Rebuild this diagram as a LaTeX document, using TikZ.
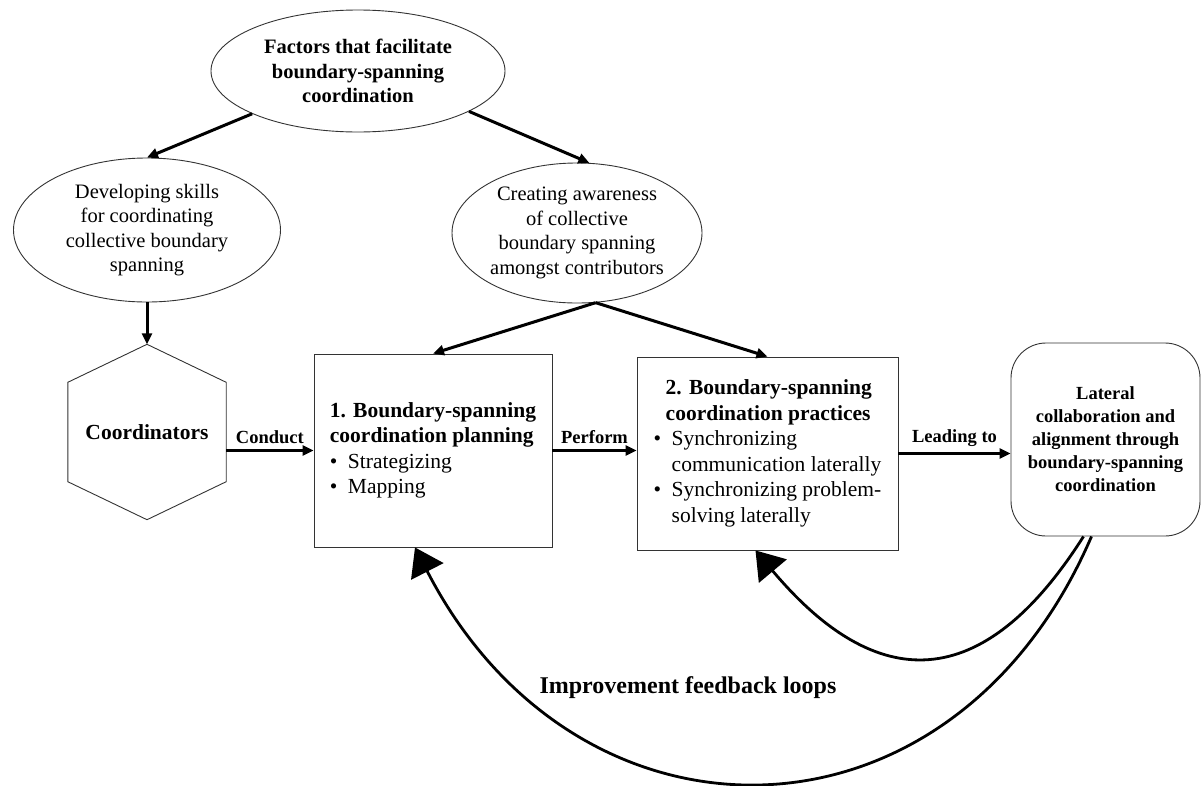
\documentclass[tikz,border=0pt]{standalone}
\usepackage{fontspec}
\setmainfont{Liberation Serif}
\usetikzlibrary{shapes,arrows.meta}

\newcommand{\bul}[1]{\makebox[18pt][l]{\textbullet}#1}
\newcommand{\cont}[1]{\hspace*{18pt}#1}

\begin{document}
\begin{tikzpicture}[x=1pt,y=-1pt,
	factor/.style={draw=black!80, line width=0.9pt, ellipse, align=center, inner sep=0pt, font=\fontsize{20.5}{24.5}\selectfont},
	phase/.style={draw=black!80, line width=0.9pt, rectangle, align=left, minimum height=193pt, inner sep=0pt, font=\fontsize{21.5}{25.5}\selectfont},
	link/.style={line width=3pt, -{Triangle[length=11pt,width=10pt]}},
	loop/.style={line width=2.8pt, -{Triangle[length=27pt,width=36pt]}},
	verb/.style={above, inner sep=5pt, font=\fontsize{18.5}{22}\selectfont\bfseries}]
		\useasboundingbox (0,0) rectangle (1202,785);
		% factors
		\node[factor, minimum width=294pt, minimum height=122pt, font=\fontsize{20.5}{24.5}\selectfont\bfseries] (factors) at (358,71) {Factors that facilitate\\boundary-spanning\\coordination};
		\node[factor, minimum width=267pt, minimum height=144pt] (skills) at (147,230) {Developing skills\\for coordinating\\collective boundary\\spanning};
		\node[factor, minimum width=250pt, minimum height=140pt] (aware) at (577,233) {Creating awareness\\of collective\\boundary spanning\\amongst contributors};
		% coordinators hexagon
		\node[minimum width=158pt, minimum height=175pt, font=\fontsize{21.5}{25}\selectfont\bfseries] (coord) at (147,432) {Coordinators};
		\draw[draw=black!80, line width=0.9pt] (coord.north) -- ([yshift=-38pt]coord.north east) -- ([yshift=38pt]coord.south east) -- (coord.south) -- ([yshift=38pt]coord.south west) -- ([yshift=-38pt]coord.north west) -- cycle;
		% phases
		\node[phase, minimum width=238pt] (plan) at (433,450.5) {\textbf{1. Boundary-spanning}\\\textbf{coordination planning}\\\bul{Strategizing}\\\bul{Mapping}};
		\node[phase, minimum width=261pt] (practice) at (767.5,453.5) {\hspace*{12pt}\textbf{2. Boundary-spanning}\\\hspace*{12pt}\textbf{coordination practices}\\\bul{Synchronizing}\\\cont{communication laterally}\\\bul{Synchronizing problem-}\\\cont{solving laterally}};
		\node[draw=black!80, line width=0.9pt, rounded corners=35pt, minimum width=189pt, minimum height=193pt, align=center, font=\fontsize{18.5}{23}\selectfont\bfseries] (outcome) at (1105.5,439.5) {Lateral\\collaboration and\\alignment through\\boundary-spanning\\coordination};
		% arrows
		\draw[link] (factors.202) -- (skills.north);
		\draw[link] (factors.-20) -- (aware.80);
		\draw[link] (skills.south) -- (coord.north);
		\draw[link] (aware.-75) -- (plan.north);
		\draw[link] (aware.-75) -- (practice.north);
		\draw[link] (coord.east |- plan.west) -- node[verb] {Conduct} (plan.west);
		\draw[link] (plan.east) -- node[verb] {Perform} (plan.east -| practice.west);
		\draw[link] (practice.east) -- node[verb] {Leading to} (practice.east -| outcome.west);
		% feedback loops
		\draw[loop] ([xshift=-14pt]outcome.south) .. controls +(-140,325) and +(162,315) .. ([xshift=-18pt]plan.south);
		\draw[loop] ([xshift=-22pt]outcome.south) .. controls +(-101,159) and +(121,144) .. ([xshift=-12pt]practice.south);
		\node[font=\fontsize{24}{28}\selectfont\bfseries] (loops) at (688,688) {Improvement feedback loops};
\end{tikzpicture}
\end{document}
